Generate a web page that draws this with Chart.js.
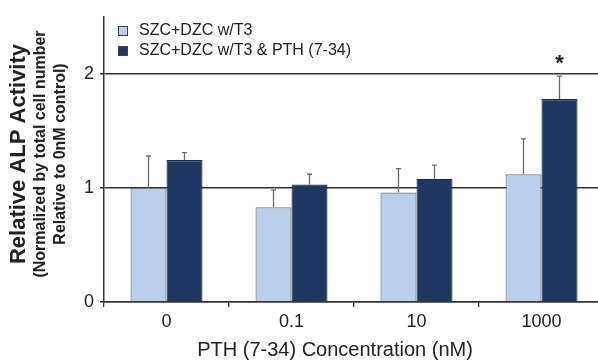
<!DOCTYPE html>
<html>
<head>
<meta charset="utf-8">
<script src="https://cdn.jsdelivr.net/npm/chart.js@4/dist/chart.umd.min.js"></script>
<style>
  html, body { margin: 0; padding: 0; background: #fff; overflow: hidden; }
  #wrap { position: relative; width: 604px; height: 361px; }
</style>
</head>
<body>
<div id="wrap"><canvas id="chart"></canvas></div>
<script>
// data
var categories = ['0', '0.1', '10', '1000'];
var seriesNames = ['SZC+DZC w/T3', 'SZC+DZC w/T3 & PTH (7-34)'];
var t3Values = [1.00, 0.83, 0.96, 1.12];
var t3Errors = [0.28, 0.15, 0.21, 0.31];
var pthValues = [1.245, 1.03, 1.08, 1.78];
var pthErrors = [0.065, 0.09, 0.12, 0.20];
var pthSignificant = [false, false, false, true];
var yTicks = [0, 1, 2];

var FONT = "'Liberation Sans', Arial, sans-serif";
var LIGHT = '#b9cfeb';
var DARK = '#1d3760';

// vertical error bars (upper half only) + asterisk
var errorBars = {
    id: 'errorBars',
    afterDatasetsDraw: function (chart) {
        var ctx = chart.ctx;
        var y = chart.scales.y;
        var errs = [t3Errors, pthErrors];
        var vals = [t3Values, pthValues];
        ctx.save();
        ctx.strokeStyle = '#6b6b6b';
        ctx.lineWidth = 1.3;
        chart.data.datasets.forEach(function (ds, di) {
            chart.getDatasetMeta(di).data.forEach(function (bar, i) {
                var top = y.getPixelForValue(vals[di][i] + errs[di][i]);
                ctx.beginPath();
                ctx.moveTo(bar.x, bar.y);
                ctx.lineTo(bar.x, top);
                ctx.moveTo(bar.x - 2.5, top);
                ctx.lineTo(bar.x + 2.5, top);
                ctx.stroke();
                if (di === 1 && pthSignificant[i]) {
                    ctx.fillStyle = '#222';
                    ctx.font = 'bold 22px ' + FONT;
                    ctx.textAlign = 'center';
                    ctx.textBaseline = 'middle';
                    ctx.fillText('*', bar.x, top - 12);
                }
            });
        });
        ctx.restore();
    }
};

// rotated three-line y title, x title and the boxed legend
var decorations = {
    id: 'decorations',
    afterDraw: function (chart) {
        var ctx = chart.ctx;
        ctx.save();
        ctx.fillStyle = '#222';
        ctx.textAlign = 'center';
        ctx.textBaseline = 'middle';
        [[19, 'bold 22px ', 'Relative ALP Activity'],
         [41, 'bold 16px ', '(Normalized by total cell number'],
         [61, 'bold 16px ', 'Relative to 0nM control)']].forEach(function (l) {
            ctx.save();
            ctx.translate(l[0], 154);
            ctx.rotate(-Math.PI / 2);
            ctx.font = l[1] + FONT;
            ctx.fillText(l[2], 0, 0);
            ctx.restore();
        });

        ctx.font = '20px ' + FONT;
        ctx.fillText('PTH (7-34) Concentration (nM)', 335, 350);

        ctx.textAlign = 'left';
        ctx.font = '16px ' + FONT;
        chart.data.datasets.forEach(function (ds, i) {
            var cy = 31 + i * 20;
            ctx.fillStyle = ds.backgroundColor;
            ctx.fillRect(118, cy - 5, 10, 10);
            ctx.strokeStyle = '#444';
            ctx.lineWidth = 1;
            ctx.strokeRect(118.5, cy - 4.5, 9, 9);
            ctx.fillStyle = '#222';
            ctx.fillText(ds.label, 139, cy);
        });
        ctx.restore();
    }
};

new Chart(document.getElementById('chart'), {
    type: 'bar',
    data: {
        labels: categories,
        datasets: [{
            label: seriesNames[0],
            data: t3Values,
            backgroundColor: LIGHT,
            borderColor: '#777',
            borderWidth: 1.2
        }, {
            label: seriesNames[1],
            data: pthValues,
            backgroundColor: DARK,
            borderColor: '#1a2f50',
            borderWidth: 1.2
        }]
    },
    options: {
        responsive: true,
        maintainAspectRatio: false,
        animation: false,
        events: [],
        layout: { padding: { top: 11, left: 0, right: 0, bottom: 0 } },
        datasets: { bar: { categoryPercentage: 0.576, barPercentage: 1 } },
        plugins: { legend: { display: false }, tooltip: { enabled: false } },
        scales: {
            x: {
                afterFit: function (s) { s.height = 59; },
                grid: { offset: true, drawOnChartArea: false, drawTicks: true, tickLength: 5, color: '#333', lineWidth: 1.3 },
                border: { color: '#333', width: 1.5 },
                ticks: { color: '#222', font: { family: FONT, size: 18 }, padding: 4 }
            },
            y: {
                min: 0,
                max: 2.5,
                afterFit: function (s) { s.width = 104; },
                afterBuildTicks: function (s) { s.ticks = yTicks.map(function (v) { return { value: v }; }); },
                grid: { color: '#333', lineWidth: 1.5, tickLength: 4 },
                border: { color: '#333', width: 1.5 },
                ticks: { color: '#222', font: { family: FONT, size: 18 }, padding: 6 }
            }
        }
    },
    plugins: [errorBars, decorations]
});
</script>
</body>
</html>
